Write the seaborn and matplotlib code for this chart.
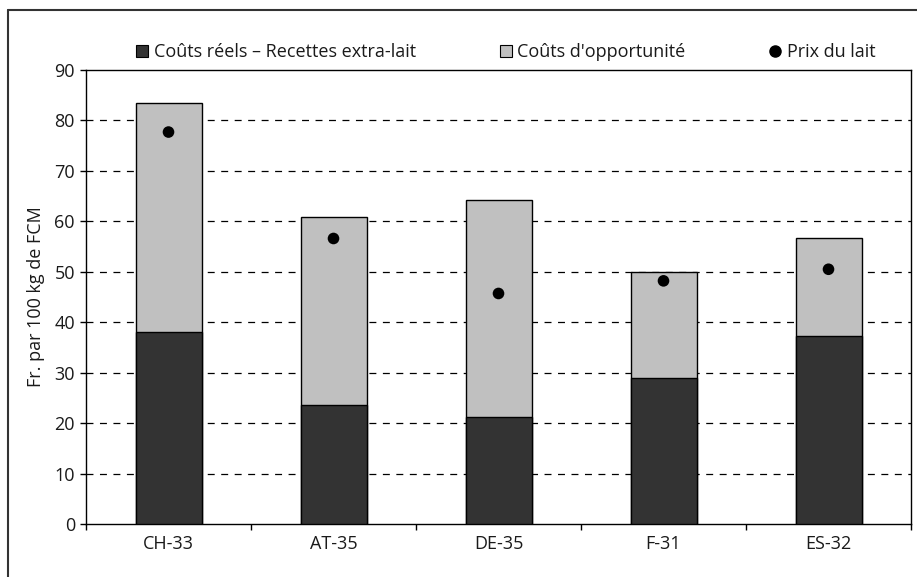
import matplotlib
matplotlib.use("Agg")
import matplotlib.pyplot as plt
import seaborn as sns
import pandas as pd
import numpy as np
from matplotlib.lines import Line2D

categories = ["CH-33", "AT-35", "DE-35", "F-31", "ES-32"]
couts_reels = [38.1, 23.6, 21.2, 28.9, 37.2]
couts_opportunite = [45.3, 37.3, 43.1, 21.0, 19.4]
prix_lait = [77.7, 56.6, 45.7, 48.2, 50.5]
yticks = [0, 10, 20, 30, 40, 50, 60, 70, 80, 90]

sns.set_theme(style="white")
plt.rcParams["font.family"] = ["Open Sans", "DejaVu Sans"]
plt.rcParams["lines.scale_dashes"] = False

df = pd.DataFrame({
    "cat": categories,
    "reel": couts_reels,
    "total": np.array(couts_reels) + np.array(couts_opportunite),
    "prix": prix_lait,
})

fig = plt.figure(figsize=(9.17, 5.77), dpi=100)
ax = fig.add_axes([86/917, 1-524/577, 825/917, 454/577])

dark = "#333333"
light = "#c0c0c0"
txt = "#1a1a1a"
fs = 13

for y in yticks[1:-1]:
    ax.axhline(y, color="black", lw=0.9, linestyle=(0, (5, 4.7)), zorder=0.5)

sns.barplot(data=df, x="cat", y="total", color=light, width=0.4,
            edgecolor="black", linewidth=1.0, saturation=1, ax=ax, zorder=2)
sns.barplot(data=df, x="cat", y="reel", color=dark, width=0.4,
            edgecolor="black", linewidth=1.0, saturation=1, ax=ax, zorder=3)
sns.scatterplot(data=df, x="cat", y="prix", color="black", s=70,
                edgecolor="none", ax=ax, zorder=4)

ax.set_xlim(-0.5, 4.5)
ax.set_ylim(0, 90)
ax.set_yticks(yticks)
ax.set_xticks(np.arange(-0.5, 5, 1.0))
ax.set_xticklabels([])
ax.set_xticks(range(len(categories)), minor=True)
ax.set_xticklabels(categories, minor=True)
ax.tick_params(axis="x", which="major", direction="out", length=4, width=1, color="black", bottom=True)
ax.tick_params(axis="x", which="minor", length=0, pad=8, labelsize=fs, labelcolor=txt)
ax.tick_params(axis="y", direction="out", length=4, width=1, color="black", left=True,
               labelsize=fs, pad=4, labelcolor=txt)
for s in ax.spines.values():
    s.set_color("black")
    s.set_linewidth(1.0)
    s.set_visible(True)
ax.set_xlabel("")
ax.set_ylabel("Fr. par 100 kg de FCM", fontsize=fs, color=txt, labelpad=7)

handles = [
    Line2D([], [], marker="s", linestyle="none", markersize=8, markerfacecolor=dark, markeredgecolor="black", markeredgewidth=0.8),
    Line2D([], [], marker="s", linestyle="none", markersize=8, markerfacecolor=light, markeredgecolor="black", markeredgewidth=0.8),
    Line2D([], [], marker="o", linestyle="none", markersize=8, markerfacecolor="black", markeredgecolor="black"),
]
labels = ["Coûts réels – Recettes extra-lait", "Coûts d'opportunité", "Prix du lait"]
fig.legend(handles, labels, loc="center left", bbox_to_anchor=(136/917, 1-52/577),
           ncol=3, frameon=False, fontsize=fs, handlelength=0.7, handletextpad=0.3,
           columnspacing=4.6, borderpad=0, borderaxespad=0, labelcolor=txt)

fig.add_artist(Line2D([8/917, 8/917], [0, 1-10/577], transform=fig.transFigure, color="#333333", lw=1.5))
fig.add_artist(Line2D([8/917, 1], [1-10/577, 1-10/577], transform=fig.transFigure, color="#333333", lw=1.5))

fig.savefig("out.png", dpi=100)
